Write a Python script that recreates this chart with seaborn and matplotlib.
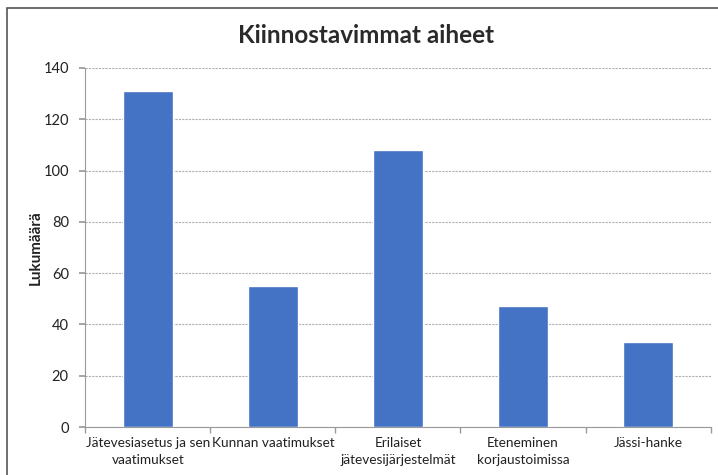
import matplotlib
matplotlib.use("Agg")
import matplotlib.pyplot as plt
from matplotlib.patches import Rectangle
import seaborn as sns
import pandas as pd

categories = [
    "Jätevesiasetus ja sen\nvaatimukset",
    "Kunnan vaatimukset",
    "Erilaiset\njätevesijärjestelmät",
    "Eteneminen\nkorjaustoimissa",
    "Jässi-hanke",
]
counts = [131, 55, 108, 47, 33]
y_ticks = [0, 20, 40, 60, 80, 100, 120, 140]

sns.set_theme(style="white")
plt.rcParams["font.family"] = ["Lato", "DejaVu Sans"]

df = pd.DataFrame({"aihe": categories, "lukumaara": counts})

fig = plt.figure(figsize=(7.18, 4.75), dpi=100)
ax = fig.add_axes([0.119, 0.101, 0.8706, 0.756])

sns.barplot(data=df, x="aihe", y="lukumaara", color="#4472C4",
            saturation=1, width=0.4, ax=ax, zorder=3)

ax.set_ylim(0, 140)
ax.set_xlim(-0.5, len(categories) - 0.5)
ax.set_yticks(y_ticks)
ax.yaxis.grid(True, color="#b0b0b0", linewidth=0.8, linestyle=(0, (2, 1)), zorder=0)
ax.set_axisbelow(True)

for side in ["top", "right"]:
    ax.spines[side].set_visible(False)
for side in ["left", "bottom"]:
    ax.spines[side].set_color("#9a9a9a")
    ax.spines[side].set_linewidth(0.8)

ax.tick_params(axis="y", labelsize=10.5, length=4, color="#9a9a9a", direction="out",
               left=True, pad=8, labelcolor="#222222")
ax.set_xticks(range(len(categories)))
ax.set_xticklabels(categories, linespacing=1.55)
ax.tick_params(axis="x", which="major", length=0, labelsize=9.8, pad=7,
               labelcolor="#222222")
ax.set_xticks([i - 0.5 for i in range(len(categories) + 1)], minor=True)
ax.tick_params(axis="x", which="minor", length=4, color="#9a9a9a", bottom=True)

ax.set_xlabel("")
ax.set_ylabel("Lukumäärä", fontsize=11, fontweight="bold", color="#222222")
ax.yaxis.set_label_coords(-0.068, 0.5)

fig.text(0.51, 0.926, "Kiinnostavimmat aiheet", ha="center", va="center",
         fontsize=17.5, fontweight="bold", color="#2a2a2a")

# chart area frame
fig.patches.append(Rectangle((0.010, -0.02), 1.1, 1.003, transform=fig.transFigure,
                             fill=False, edgecolor="#555555", linewidth=1.2))

fig.savefig("out.png", dpi=100)
